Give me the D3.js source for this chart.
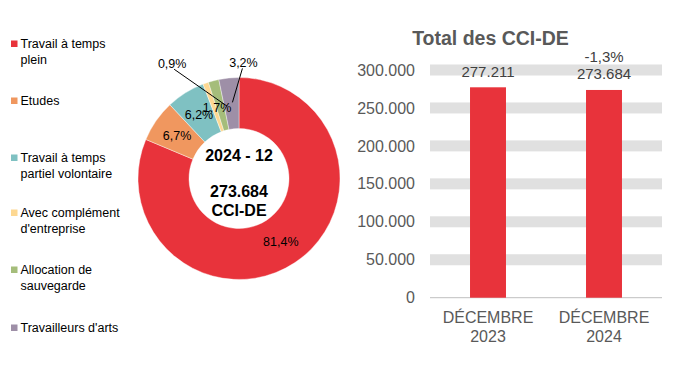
<!DOCTYPE html>
<html><head><meta charset="utf-8">
<script src="https://cdn.jsdelivr.net/npm/d3@7"></script>
<style>body{margin:0;background:#fff}svg{display:block;font-family:"Liberation Sans",Arial,sans-serif}</style>
</head><body>
<svg id="c" width="673" height="390"></svg>
<script>
// Donut data
const categories = ["Travail à temps plein","Etudes","Travail à temps partiel volontaire","Avec complément d'entreprise","Allocation de sauvegarde","Travailleurs d'arts"];
const legendLines = [["Travail à temps","plein"],["Etudes"],["Travail à temps","partiel volontaire"],["Avec complément","d'entreprise"],["Allocation de","sauvegarde"],["Travailleurs d'arts"]];
const shares = [81.4, 6.7, 6.2, 0.9, 1.7, 3.2];
const shareLabels = ["81,4%","6,7%","6,2%","0,9%","1,7%","3,2%"];
const colors = ["#E8333B","#F0975F","#7FC1C2","#FDD892","#A5BD7B","#9E8FA7"];
const centerTitle = "2024 - 12";
const centerValue = ["273.684","CCI-DE"];
// Bar data
const barCats = [["DÉCEMBRE","2023"],["DÉCEMBRE","2024"]];
const barValues = [277211, 273684];
const barLabels = ["277.211","273.684"];
const changeLabels = ["","-1,3%"];
const yTicks = [0,50000,100000,150000,200000,250000,300000];
const barTitle = "Total des CCI-DE";

const svg = d3.select("#c");
const fmt = v => v===0 ? "0" : d3.format(",")(v).replace(/,/g,".");

// Legend
const lg = svg.append("g");
const legendY = [44,101,158,213,270,328];
legendLines.forEach((lines,i)=>{
  lg.append("rect").attr("x",11).attr("y",legendY[i]-3.5).attr("width",6.5).attr("height",6.5).attr("fill",colors[i]);
  lines.forEach((t,j)=>{
    lg.append("text").attr("x",20.5).attr("y",legendY[i]+j*15.5).attr("dy","0.35em")
      .attr("font-size",12.5).attr("fill","#000").text(t);
  });
});

// Donut
const cx=239, cy=178.5, rO=101, rI=50;
const pie = d3.pie().sort(null).value(d=>d);
const arcs = pie(shares);
const arc = d3.arc().innerRadius(rI).outerRadius(rO);
const g = svg.append("g").attr("transform",`translate(${cx},${cy})`);
g.selectAll("path").data(arcs).join("path").attr("d",arc).attr("fill",(d,i)=>colors[i])
  .attr("stroke","#fff").attr("stroke-width",0.4);
const mid = d3.arc().innerRadius((rI+rO)/2).outerRadius((rI+rO)/2);
const outsideOffset = {3:[-42,-44], 5:[12,-41]};
arcs.forEach((d,i)=>{
  const [x,y] = mid.centroid(d);
  if(outsideOffset[i]){
    const [ox,oy]=outsideOffset[i];
    const lx=x+ox, ly=y+oy;
    const ex = i===3 ? x+13 : x+1;
    g.append("line").attr("x1",lx+(i===3?2:-1)).attr("y1",ly+6).attr("x2",ex).attr("y2",y-1)
      .attr("stroke","#000").attr("stroke-width",1);
    g.append("text").attr("x",lx).attr("y",ly).attr("text-anchor","middle").attr("dy","0.35em")
      .attr("font-size",12.5).attr("fill","#000").text(shareLabels[i]);
  } else {
    g.append("text").attr("x",x+(i===4?-3:0)).attr("y",y+(i===4?2:0)).attr("text-anchor","middle").attr("dy","0.35em")
      .attr("font-size",12.5).attr("fill","#000").text(shareLabels[i]);
  }
});
g.append("text").attr("x",0).attr("y",155-cy).attr("text-anchor","middle").attr("dy","0.35em")
  .attr("font-size",16).attr("font-weight","bold").text(centerTitle);
centerValue.forEach((t,j)=>g.append("text").attr("x",0).attr("y",191.5-cy+j*18.5).attr("text-anchor","middle").attr("dy","0.35em")
  .attr("font-size",16).attr("font-weight","bold").text(t));

// Bar chart
const x0=430, x1=662, yBottom=297.7, yTop=70;
const y = d3.scaleLinear().domain([0,300000]).range([yBottom,yTop]);
const x = d3.scaleBand().domain(d3.range(barValues.length)).range([x0,x1]).paddingInner(0.69).paddingOuter(0.345);
const b = svg.append("g");
b.append("text").attr("x",490.5).attr("y",38).attr("text-anchor","middle").attr("dy","0.35em")
  .attr("font-size",19.5).attr("font-weight","bold").attr("fill","#595959").text(barTitle);
yTicks.filter(t=>t>0).forEach(t=>{
  b.append("rect").attr("x",x0).attr("width",x1-x0).attr("y",y(t)-5.5).attr("height",11).attr("fill","#E0E0E0");
});
b.append("line").attr("x1",x0).attr("x2",x1).attr("y1",yBottom).attr("y2",yBottom).attr("stroke","#BFBFBF").attr("stroke-width",1);
yTicks.forEach(t=>{
  b.append("text").attr("x",415).attr("y",y(t)).attr("text-anchor","end").attr("dy","0.35em")
    .attr("font-size",16).attr("fill","#595959").text(fmt(t));
});
b.selectAll("rect.bar").data(barValues).join("rect").attr("class","bar")
  .attr("x",(d,i)=>x(i)).attr("width",x.bandwidth()).attr("y",d=>y(d)).attr("height",d=>yBottom-y(d)).attr("fill","#E8333B");
barValues.forEach((v,i)=>{
  const c = x(i)+x.bandwidth()/2;
  b.append("text").attr("x",c).attr("y",y(v)-16).attr("text-anchor","middle").attr("dy","0.35em")
    .attr("font-size",15).attr("fill","#404040").text(barLabels[i]);
  if(changeLabels[i]) b.append("text").attr("x",c).attr("y",y(v)-33.5).attr("text-anchor","middle").attr("dy","0.35em")
    .attr("font-size",15).attr("fill","#404040").text(changeLabels[i]);
  barCats[i].forEach((t,j)=>b.append("text").attr("x",c).attr("y",317+j*19).attr("text-anchor","middle").attr("dy","0.35em")
    .attr("font-size",16).attr("fill","#595959").text(t));
});
</script>
</body></html>
